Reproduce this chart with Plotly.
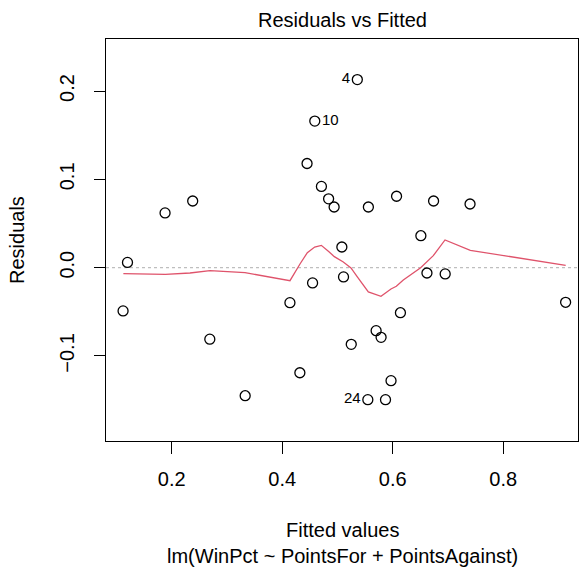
import plotly.graph_objects as go

# Data
fitted = [0.112, 0.120, 0.188, 0.238, 0.269, 0.333, 0.414, 0.432, 0.445, 0.455,
          0.459, 0.471, 0.484, 0.494, 0.508, 0.511, 0.525, 0.536, 0.555, 0.556,
          0.570, 0.579, 0.587, 0.597, 0.607, 0.614, 0.651, 0.662, 0.674, 0.695,
          0.740, 0.913]
residuals = [-0.049, 0.006, 0.062, 0.0755, -0.081, -0.145, -0.0396, -0.119, 0.118, -0.0173,
             0.166, 0.092, 0.078, 0.0687, 0.0234, -0.0105, -0.0868, 0.213, -0.1495, 0.0687,
             -0.0713, -0.0789, -0.1495, -0.128, 0.0809, -0.051, 0.0362, -0.006, 0.0755, -0.0071,
             0.0721, -0.0392]
point_labels = ["", "", "", "", "", "", "", "", "", "",
                "10", "", "", "", "", "", "", "4", "24", "",
                "", "", "", "", "", "", "", "", "", "",
                "", ""]
label_pos = ["middle right" if l == "10" else "middle left" for l in point_labels]

smooth_x = [0.1125, 0.1885, 0.2331, 0.2693, 0.3327, 0.4141, 0.4322, 0.4455, 0.4588, 0.4708,
            0.4841, 0.4944, 0.5106, 0.5245, 0.5360, 0.5559, 0.5788, 0.5867, 0.5969, 0.6066,
            0.6192, 0.6506, 0.6735, 0.6947, 0.7405, 0.9131]
smooth_y = [-0.0068, -0.0075, -0.0060, -0.0034, -0.0056, -0.0147, 0.0042, 0.0170, 0.0234, 0.0253,
            0.0182, 0.0125, 0.0065, -0.0003, -0.0105, -0.0275, -0.0324, -0.0283, -0.0241, -0.0211,
            -0.0139, 0.0000, 0.0136, 0.0314, 0.0197, 0.0027]

x_ticks = [0.2, 0.4, 0.6, 0.8]
y_ticks = [-0.1, 0.0, 0.1, 0.2]
x_range = [0.0811, 0.9354]
y_range = [-0.1963, 0.259]

title_text = "Residuals vs Fitted"
x_title = "Fitted values"
sub_title = "lm(WinPct ~ PointsFor + PointsAgainst)"
y_title = "Residuals"

FONT = "Liberation Sans, Arial, Helvetica, sans-serif"

fig = go.Figure()

# dotted zero reference line
fig.add_shape(type="line", xref="paper", yref="y", x0=0, x1=1, y0=0, y1=0,
              line=dict(color="#BEBEBE", width=1.2, dash="dot"), layer="below")

fig.add_trace(go.Scatter(
    x=fitted, y=residuals, mode="markers+text",
    text=point_labels, textposition=label_pos,
    textfont=dict(family=FONT, size=15, color="black"),
    marker=dict(symbol="circle-open", size=10, color="black", line=dict(width=1.3, color="black")),
    showlegend=False, cliponaxis=False))

fig.add_trace(go.Scatter(
    x=smooth_x, y=smooth_y, mode="lines",
    line=dict(color="#DF536B", width=1.3),
    showlegend=False))

axis_common = dict(showgrid=False, zeroline=False, showline=True, mirror=True,
                   linecolor="black", linewidth=1, ticks="outside", tickcolor="black",
                   tickwidth=1, tickformat=".1f",
                   tickfont=dict(family=FONT, size=20, color="black"))

fig.update_xaxes(range=x_range, tickvals=x_ticks, ticklen=12, ticklabelstandoff=8, **axis_common)
fig.update_yaxes(range=y_range, tickvals=y_ticks, ticklen=11, tickangle=-90, ticklabelstandoff=12,
                 **axis_common)

annots = [
    dict(text=title_text, xref="paper", yref="paper", x=0.5, y=1, yanchor="middle",
         yshift=19, showarrow=False, font=dict(family=FONT, size=20, color="black")),
    dict(text=x_title, xref="paper", yref="paper", x=0.5, y=0, yanchor="middle",
         yshift=-89, showarrow=False, font=dict(family=FONT, size=20, color="black")),
    dict(text=sub_title, xref="paper", yref="paper", x=0.5, y=0, yanchor="middle",
         yshift=-115, showarrow=False, font=dict(family=FONT, size=20, color="black")),
    dict(text=y_title, xref="paper", yref="paper", x=0, y=0.5, xanchor="center",
         xshift=-89, textangle=-90, showarrow=False,
         font=dict(family=FONT, size=20, color="black")),
]

fig.update_layout(
    width=579, height=568,
    margin=dict(l=106, r=1, t=39, b=127),
    paper_bgcolor="white", plot_bgcolor="white",
    annotations=annots,
)

fig.write_html("out.html", config={"displayModeBar": False},
               post_script="document.body.style.margin='0';document.body.style.overflow='hidden';")
